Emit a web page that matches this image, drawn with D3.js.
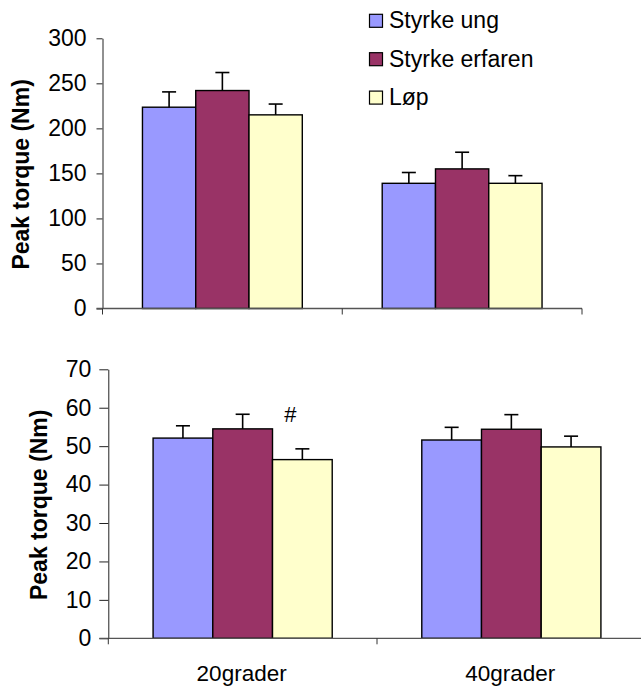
<!DOCTYPE html>
<html>
<head>
<meta charset="utf-8">
<script src="https://cdn.jsdelivr.net/npm/d3@7"></script>
<style>
  html, body { margin: 0; padding: 0; background: #fff; }
  svg { display: block; font-family: "Liberation Sans", Arial, sans-serif; }
</style>
</head>
<body>
<svg id="chart" width="641" height="686"></svg>
<script>
// Peak torque per group at two joint angles (mean + SD)
const categories = ["20grader", "40grader"];
const series = ["Styrke ung", "Styrke erfaren", "Løp"];
const colors = ["#9999FF", "#993366", "#FFFFCC"];

// upper panel
const topMeans = [[223.5, 139], [242, 155], [215, 139]];
const topErr = [[17, 12], [20, 18.5], [12, 8.5]];
const topTicks = [0, 50, 100, 150, 200, 250, 300];

// lower panel
const bottomMeans = [[52.1, 51.6], [54.5, 54.4], [46.5, 49.8]];
const bottomErr = [[3.2, 3.3], [3.8, 3.8], [2.8, 2.8]];
const bottomTicks = [0, 10, 20, 30, 40, 50, 60, 70];

// significance marks: [series index, category index, symbol]
const bottomMarks = [[2, 0, "#"]];

const svg = d3.select("#chart");

function panel(cfg) {
  const g = svg.append("g");
  const x0 = d3.scaleBand().domain(categories).range([cfg.left, cfg.right]).padding(0);
  const x1 = d3.scaleBand().domain(series).range([0, x0.bandwidth()])
    .paddingInner(0).paddingOuter(0.75);
  const y = d3.scaleLinear().domain([0, cfg.max]).range([cfg.bottom, cfg.top]);

  // y axis
  const yAxis = g.append("g")
    .attr("transform", `translate(${cfg.left},0)`)
    .call(d3.axisLeft(y).tickValues(cfg.ticks).tickSize(cfg.tickSize)
      .tickPadding(cfg.tickPad).tickSizeOuter(0));
  yAxis.select(".domain").attr("stroke", "#222").attr("stroke-width", 1);
  yAxis.selectAll(".tick line").attr("stroke", "#222");
  yAxis.selectAll("text").attr("font-size", 23).attr("fill", "#000")
    .attr("font-family", "Liberation Sans, Arial, sans-serif");

  // bars
  series.forEach((s, si) => {
    categories.forEach((c, ci) => {
      const v = cfg.means[si][ci];
      const e = cfg.err[si][ci];
      const bx = x0(c) + x1(s);
      const bw = x1.bandwidth();
      g.append("rect")
        .attr("x", bx).attr("y", y(v))
        .attr("width", bw).attr("height", y(0) - y(v))
        .attr("fill", colors[si]).attr("stroke", "#000").attr("stroke-width", 1.4);
      const cx = bx + bw / 2;
      g.append("line")
        .attr("x1", cx).attr("x2", cx).attr("y1", y(v)).attr("y2", y(v + e))
        .attr("stroke", "#000").attr("stroke-width", 1.6);
      g.append("line")
        .attr("x1", cx - 7).attr("x2", cx + 7).attr("y1", y(v + e)).attr("y2", y(v + e))
        .attr("stroke", "#000").attr("stroke-width", 1.6);
    });
  });

  // x axis with category boundary ticks
  const xAxisG = g.append("g").attr("transform", `translate(0,${cfg.bottom})`);
  xAxisG.append("line")
    .attr("x1", cfg.left - cfg.tickSize).attr("x2", cfg.right)
    .attr("stroke", "#555").attr("stroke-width", 1.3);
  const bounds = categories.map(c => x0(c)).concat([cfg.right]);
  xAxisG.selectAll("line.b").data(bounds).enter().append("line")
    .attr("class", "b")
    .attr("x1", d => d).attr("x2", d => d).attr("y1", 0).attr("y2", 6)
    .attr("stroke", "#333").attr("stroke-width", 1);
  if (cfg.labels) {
    xAxisG.selectAll("text").data(categories).enter().append("text")
      .attr("x", d => x0(d) + x0.bandwidth() / 2 - 1)
      .attr("y", 43)
      .attr("text-anchor", "middle").attr("font-size", 22.5).attr("fill", "#000")
      .text(d => d);
  }

  // axis title
  g.append("text")
    .attr("transform", `translate(${cfg.titleX},${(cfg.top + cfg.bottom) / 2 + 1}) rotate(-90)`)
    .attr("text-anchor", "middle").attr("font-size", 23).attr("font-weight", "bold")
    .text("Peak torque (Nm)");

  (cfg.marks || []).forEach(([si, ci, sym]) => {
    const cx = x0(categories[ci]) + x1(series[si]) + x1.bandwidth() / 2;
    const top = y(cfg.means[si][ci] + cfg.err[si][ci]);
    g.append("text")
      .attr("x", cx - 12).attr("y", top - 27)
      .attr("text-anchor", "middle").attr("font-size", 22)
      .text(sym);
  });
}

panel({ left: 102.5, right: 582, top: 38.3, bottom: 308.5, max: 300,
        ticks: topTicks, means: topMeans, err: topErr,
        tickSize: 6, tickPad: 10, titleX: 29, labels: false });

panel({ left: 108.3, right: 645.7, top: 369.3, bottom: 638.3, max: 70,
        ticks: bottomTicks, means: bottomMeans, err: bottomErr,
        tickSize: 9, tickPad: 8, titleX: 47, labels: true, marks: bottomMarks });

// legend
const legend = svg.append("g");
series.forEach((s, i) => {
  const ly = 28.3 + i * 38.4;
  legend.append("rect")
    .attr("x", 369.5).attr("y", ly - 14).attr("width", 13).attr("height", 13)
    .attr("fill", colors[i]).attr("stroke", "#000").attr("stroke-width", 1.2);
  legend.append("text")
    .attr("x", 389).attr("y", ly)
    .attr("font-size", 23).attr("fill", "#000")
    .text(s);
});
</script>
</body>
</html>
